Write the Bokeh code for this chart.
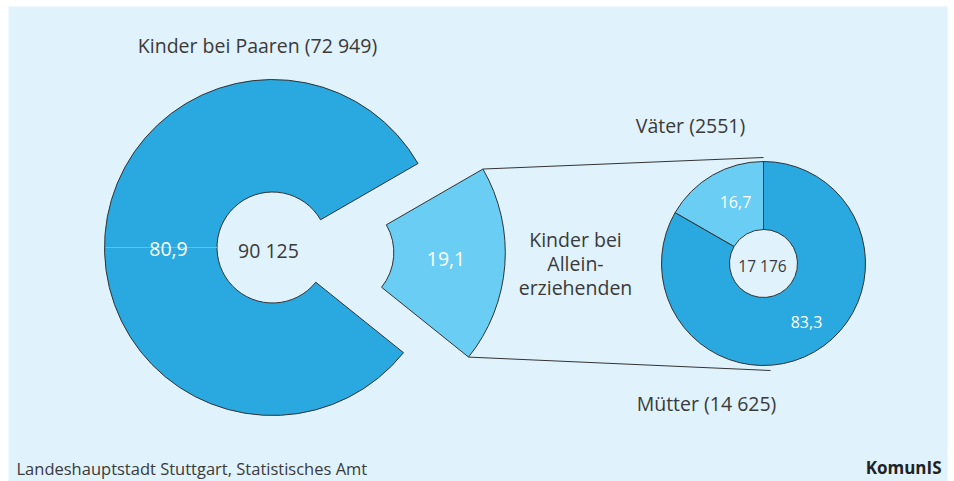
import math
from bokeh.plotting import figure
from bokeh.models import Range1d
from bokeh.core.properties import value
from bokeh.embed import file_html
from bokeh.resources import INLINE

# ---- data ----
main_labels = ["Kinder bei Paaren", "Kinder bei Alleinerziehenden"]
main_shares = [80.9, 19.1]
main_total = "90 125"
paar_count = "72 949"
sub_labels = ["Väter", "Mütter"]
sub_shares = [16.7, 83.3]
sub_counts = ["2551", "14 625"]
sub_total = "17 176"

BG = "#e0f2fc"
DARK = "#2aa8e0"
LIGHT = "#6acdf3"
EDGE = "#333333"
TXT = "#3a3a3a"
FONT = "Open Sans"

W, H = 954, 481
p = figure(width=W, height=H, output_backend="svg", toolbar_location=None,
           x_range=Range1d(0, W), y_range=Range1d(0, H),
           min_border=0, background_fill_color="white", border_fill_color="white",
           outline_line_color=None)
p.axis.visible = False
p.grid.visible = False

def Y(py):
    return H - py

def fmt(v):
    return f"{v:.1f}".replace(".", ",")

# panel background
p.quad(left=[8], right=[947], top=[Y(6)], bottom=[Y(481)],
       fill_color=BG, line_color=None)

# ---- big donut ----
cx, cy = 272, Y(247)
r_in, r_out = 55.5, 168
start = math.radians(30)
a_dark = main_shares[0] / 100 * 2 * math.pi
a_light = main_shares[1] / 100 * 2 * math.pi
p.annular_wedge(x=[cx], y=[cy], inner_radius=r_in, outer_radius=r_out,
                start_angle=[start], end_angle=[start + a_dark],
                fill_color=DARK, line_color=EDGE, line_width=1)
# seam line
p.segment(x0=[cx - r_out + 1], y0=[cy], x1=[cx - r_in], y1=[cy],
          line_color="#62c0ea", line_width=1)

# exploded slice
mid = start + a_dark + a_light / 2
off = 66
ex, ey = cx + off * math.cos(mid), cy + off * math.sin(mid)
p.annular_wedge(x=[ex], y=[ey], inner_radius=r_in, outer_radius=r_out - 1,
                start_angle=[start + a_dark], end_angle=[start + 2 * math.pi],
                fill_color=LIGHT, line_color=EDGE, line_width=1)

BIG = "19.5px"
# labels big donut
p.text(x=[cx - 104], y=[cy - 1], text=[fmt(main_shares[0])],
       text_color="white", text_font=value(FONT), text_font_size=BIG,
       text_align="center", text_baseline="middle")
p.text(x=[cx - 4], y=[cy - 3], text=[main_total],
       text_color=TXT, text_font=value(FONT), text_font_size=BIG,
       text_align="center", text_baseline="middle")
p.text(x=[ex + 108 * math.cos(mid)], y=[ey + 108 * math.sin(mid) + 2],
       text=[fmt(main_shares[1])],
       text_color="white", text_font=value(FONT), text_font_size=BIG,
       text_align="center", text_baseline="middle")
p.text(x=[257], y=[Y(45)], text=[f"{main_labels[0]} ({paar_count})"],
       text_color=TXT, text_font=value(FONT), text_font_size=BIG,
       text_align="center", text_baseline="middle")
p.text(x=[575, 575, 575], y=[Y(239), Y(263), Y(287)],
       text=["Kinder bei", "Allein-", "erziehenden"],
       text_color=TXT, text_font=value(FONT), text_font_size=BIG,
       text_align="center", text_baseline="middle")

# ---- small donut ----
sx, sy = 763, Y(263)
sr_in, sr_out = 34, 102
s0 = math.pi / 2
a_v = sub_shares[0] / 100 * 2 * math.pi
p.annular_wedge(x=[sx, sx], y=[sy, sy], inner_radius=sr_in, outer_radius=sr_out,
                start_angle=[s0, s0 + a_v], end_angle=[s0 + a_v, s0 + 2 * math.pi],
                fill_color=[LIGHT, DARK], line_color=EDGE, line_width=1)
p.text(x=[735], y=[Y(201)], text=[fmt(sub_shares[0])],
       text_color="white", text_font=value(FONT), text_font_size="16px",
       text_align="center", text_baseline="middle")
p.text(x=[806], y=[Y(321)], text=[fmt(sub_shares[1])],
       text_color="white", text_font=value(FONT), text_font_size="16px",
       text_align="center", text_baseline="middle")
p.text(x=[762], y=[Y(265)], text=[sub_total],
       text_color=TXT, text_font=value(FONT), text_font_size="15.5px",
       text_align="center", text_baseline="middle")
p.text(x=[690], y=[Y(125)], text=[f"{sub_labels[0]} ({sub_counts[0]})"],
       text_color=TXT, text_font=value(FONT), text_font_size=BIG,
       text_align="center", text_baseline="middle")
p.text(x=[706], y=[Y(403)], text=[f"{sub_labels[1]} ({sub_counts[1]})"],
       text_color=TXT, text_font=value(FONT), text_font_size=BIG,
       text_align="center", text_baseline="middle")

# connector lines
ta = start
ba = start + a_dark
top_pt = (ex + (r_out - 1) * math.cos(ta), ey + (r_out - 1) * math.sin(ta))
bot_pt = (ex + (r_out - 1) * math.cos(ba), ey + (r_out - 1) * math.sin(ba))
p.segment(x0=[top_pt[0], bot_pt[0]], y0=[top_pt[1], bot_pt[1]],
          x1=[sx, sx + 7], y1=[sy + sr_out + 4, sy - sr_out - 5],
          line_color=EDGE, line_width=1)

# footer
p.text(x=[16], y=[Y(468)], text=["Landeshauptstadt Stuttgart, Statistisches Amt"],
       text_color=TXT, text_font=value(FONT), text_font_size="16.5px",
       text_align="left", text_baseline="middle")
p.text(x=[941], y=[Y(467)], text=["KomunIS"],
       text_color="#222222", text_font=value(FONT), text_font_size="17px",
       text_font_style="bold", text_align="right", text_baseline="middle")

open("out.html", "w").write(file_html(p, INLINE))
